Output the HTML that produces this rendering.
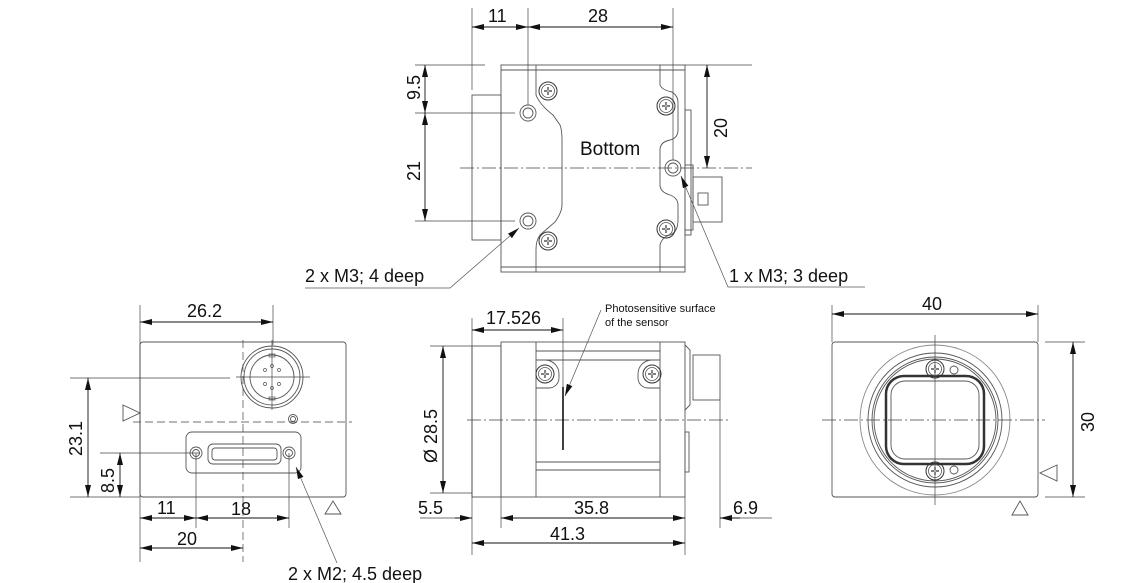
<!DOCTYPE html>
<html><head><meta charset="utf-8"><style>
html,body{margin:0;padding:0;background:#fff}
svg{display:block}
text{font-family:"Liberation Sans",Arial,sans-serif;fill:#111}
</style></head><body>
<svg width="1144" height="583" viewBox="0 0 1144 583" xmlns="http://www.w3.org/2000/svg">
<defs>
<marker id="a" viewBox="0 0 12 6" refX="12" refY="3" markerWidth="12" markerHeight="6" orient="auto-start-reverse" markerUnits="userSpaceOnUse"><path d="M0,0 L12,3 L0,6z" fill="#111"/></marker>
<g id="scr"><circle r="9" fill="none" stroke="#333" stroke-width="1"/><circle r="6.5" fill="none" stroke="#555" stroke-width="0.8"/><path d="M-4,0H4M0,-4V4" stroke="#333" stroke-width="2"/><path d="M-4,0H4M0,-4V4" stroke="#fff" stroke-width="0.8"/></g>
<g id="hole"><circle r="8" fill="none" stroke="#555" stroke-width="0.9"/><circle r="5" fill="none" stroke="#555" stroke-width="0.9"/></g>
</defs>
<g fill="none" stroke="#555" stroke-width="0.9">
<!-- TOP VIEW -->
<rect x="472" y="95" width="29" height="145"/>
<rect x="501" y="65" width="184" height="207"/>
<line x1="501" y1="70" x2="685" y2="70"/><line x1="501" y1="267" x2="685" y2="267"/>
<path d="M536,65 V95 Q540,105 553,115 L560,125 Q562,130 562,140 V205 Q562,212 555,222 L540,235 Q536,240 536,250 V272"/>
<path d="M660,65 V85 Q662,90 672,92 Q678,96 678,102 V130 Q678,138 670,140 Q660,142 660,150 V185 Q660,192 670,195 Q678,198 678,205 V220 Q678,232 670,235 Q662,237 660,245 V272"/>
<rect x="685" y="110" width="6" height="125"/>
<rect x="685" y="165" width="8" height="65"/>
<rect x="693" y="177" width="29" height="45"/>
<rect x="698" y="193" width="10" height="12"/>
<g stroke="#444" stroke-width="0.7">
<line x1="472" y1="8" x2="472" y2="90"/><line x1="528" y1="8" x2="528" y2="105"/><line x1="673" y1="8" x2="673" y2="160"/>
<line x1="415" y1="65" x2="485" y2="65"/><line x1="415" y1="113" x2="515" y2="113"/><line x1="415" y1="221" x2="515" y2="221"/>
<line x1="685" y1="65" x2="752" y2="65"/>
<line x1="460" y1="168" x2="752" y2="168" stroke-dasharray="14,3,2,3"/>
</g>
</g>
<use href="#hole" x="528" y="113"/><use href="#hole" x="528" y="221"/><use href="#hole" x="673" y="168"/>
<use href="#scr" x="548" y="91"/><use href="#scr" x="548" y="241"/><use href="#scr" x="666" y="106"/><use href="#scr" x="666" y="229"/>
<g stroke="#111" stroke-width="0.9" fill="none">
<line x1="472" y1="27" x2="528" y2="27" marker-start="url(#a)" marker-end="url(#a)"/>
<line x1="528" y1="27" x2="673" y2="27" marker-start="url(#a)" marker-end="url(#a)"/>
<line x1="425" y1="65" x2="425" y2="113" marker-start="url(#a)" marker-end="url(#a)"/>
<line x1="425" y1="113" x2="425" y2="221" marker-start="url(#a)" marker-end="url(#a)"/>
<line x1="707" y1="65" x2="707" y2="168" marker-start="url(#a)" marker-end="url(#a)"/>
</g>
<g stroke="#555" stroke-width="0.7" fill="none">
<polyline points="305,288 450,288 519,228" marker-end="url(#a)"/>
<polyline points="865,287 728,287 681,176" marker-end="url(#a)"/>
</g>
<g font-size="18">
<text x="488" y="22">11</text><text x="588" y="22">28</text>
<text x="580" y="155" font-size="19">Bottom</text>
<text transform="translate(420,100) rotate(-90)">9.5</text>
<text transform="translate(420,181) rotate(-90)">21</text>
<text transform="translate(727,138) rotate(-90)">20</text>
<text x="305" y="282">2 x M3; 4 deep</text>
<text x="729" y="282">1 x M3; 3 deep</text>
</g>

<!-- LEFT VIEW -->
<g fill="none" stroke="#555" stroke-width="0.9">
<rect x="140" y="342" width="206" height="155" rx="3"/>
<circle cx="272" cy="377" r="31"/><circle cx="272" cy="377" r="28"/><circle cx="272" cy="377" r="22"/>
<g stroke-width="0.7"><circle cx="265" cy="370" r="1.5"/><circle cx="279" cy="370" r="1.5"/><circle cx="265" cy="384" r="1.5"/><circle cx="279" cy="384" r="1.5"/><circle cx="272" cy="366" r="1.5"/><circle cx="272" cy="388" r="1.5"/><rect x="269" y="354" width="6" height="3"/><rect x="269" y="397" width="6" height="3"/></g>
<circle cx="293" cy="419" r="4.5"/><circle cx="293" cy="419" r="2.5"/>
<rect x="186" y="432" width="115" height="41" rx="6"/>
<rect x="208" y="444" width="73" height="20" rx="5"/><rect x="212" y="448" width="65" height="12" rx="3"/>
<circle cx="196" cy="453" r="6"/><circle cx="196" cy="453" r="3.5"/>
<circle cx="289" cy="453" r="6"/><circle cx="289" cy="453" r="3.5"/>
<polygon points="123,405 140,413 123,421"/><polygon points="325,514 333,501 341,514"/>
<g stroke="#444" stroke-width="0.7">
<line x1="133" y1="422" x2="352" y2="422" stroke-dasharray="8,4"/>
<line x1="243" y1="340" x2="243" y2="562" stroke-dasharray="8,4"/>
<line x1="272" y1="340" x2="272" y2="410"/><line x1="236" y1="377" x2="310" y2="377"/>
<line x1="140" y1="305" x2="140" y2="562"/><line x1="273" y1="305" x2="273" y2="345"/>
<line x1="70" y1="378" x2="230" y2="378"/><line x1="70" y1="497" x2="140" y2="497"/>
<line x1="100" y1="453" x2="200" y2="453"/>
<line x1="196" y1="453" x2="196" y2="528"/><line x1="289" y1="453" x2="289" y2="528"/>
</g>
</g>
<g stroke="#111" stroke-width="0.9" fill="none">
<line x1="140" y1="322" x2="273" y2="322" marker-start="url(#a)" marker-end="url(#a)"/>
<line x1="88" y1="378" x2="88" y2="497" marker-start="url(#a)" marker-end="url(#a)"/>
<line x1="120" y1="453" x2="120" y2="497" marker-start="url(#a)" marker-end="url(#a)"/>
<line x1="140" y1="518" x2="196" y2="518" marker-start="url(#a)" marker-end="url(#a)"/>
<line x1="196" y1="518" x2="289" y2="518" marker-start="url(#a)" marker-end="url(#a)"/>
<line x1="140" y1="548" x2="243" y2="548" marker-start="url(#a)" marker-end="url(#a)"/>
</g>
<line x1="337" y1="563" x2="296" y2="467" stroke="#555" stroke-width="0.7" marker-end="url(#a)"/>
<g font-size="18">
<text x="187" y="317">26.2</text>
<text transform="translate(82,456) rotate(-90)">23.1</text>
<text transform="translate(114,493) rotate(-90)">8.5</text>
<text x="157" y="514">11</text><text x="231" y="515">18</text><text x="177" y="545">20</text>
<text x="288" y="580">2 x M2; 4.5 deep</text>
</g>

<!-- MIDDLE VIEW -->
<g fill="none" stroke="#555" stroke-width="0.9">
<rect x="472" y="346" width="29" height="151"/>
<rect x="501" y="342" width="184" height="155"/>
<line x1="536" y1="342" x2="536" y2="497"/><line x1="660" y1="342" x2="660" y2="497"/>
<line x1="536" y1="351" x2="660" y2="351"/><line x1="536" y1="360" x2="660" y2="360"/>
<line x1="536" y1="462" x2="660" y2="462"/><line x1="536" y1="470" x2="660" y2="470"/>
<path d="M536,360 H545 A14,14 0 0 1 559,374 V378 A10,10 0 0 1 549,388 H536"/>
<path d="M660,360 H652 A14,14 0 0 0 638,374 V378 A10,10 0 0 0 648,388 H660"/>
<path d="M685,345 L690,350 V405 L685,410"/>
<rect x="693" y="355" width="27" height="45"/>
<rect x="685" y="432" width="4" height="40"/>
<g stroke="#444" stroke-width="0.7">
<line x1="467" y1="420" x2="730" y2="420" stroke-dasharray="14,3,2,3"/>
<line x1="472" y1="318" x2="472" y2="555"/><line x1="563" y1="318" x2="563" y2="390"/>
<line x1="501" y1="497" x2="501" y2="528"/><line x1="685" y1="497" x2="685" y2="555"/>
<line x1="720" y1="400" x2="720" y2="528"/>
<line x1="430" y1="346" x2="472" y2="346"/><line x1="430" y1="493" x2="472" y2="493"/>
<line x1="420" y1="518" x2="455" y2="518"/><line x1="740" y1="518" x2="772" y2="518"/>
</g>
</g>
<line x1="563" y1="387" x2="563" y2="450" stroke="#111" stroke-width="1.6"/>
<use href="#scr" x="545" y="374"/><use href="#scr" x="652" y="374"/>
<g stroke="#111" stroke-width="0.9" fill="none">
<line x1="472" y1="330" x2="563" y2="330" marker-start="url(#a)" marker-end="url(#a)"/>
<line x1="443" y1="346" x2="443" y2="493" marker-start="url(#a)" marker-end="url(#a)"/>
<line x1="455" y1="518" x2="472" y2="518" marker-end="url(#a)"/>
<line x1="501" y1="518" x2="685" y2="518" marker-start="url(#a)" marker-end="url(#a)"/>
<line x1="740" y1="518" x2="720" y2="518" marker-end="url(#a)"/>
<line x1="472" y1="543" x2="685" y2="543" marker-start="url(#a)" marker-end="url(#a)"/>
</g>
<line x1="601" y1="310" x2="565" y2="396" stroke="#555" stroke-width="0.7" marker-end="url(#a)"/>
<g font-size="18">
<text x="486" y="324">17.526</text>
<text transform="translate(437,463) rotate(-90)">Ø 28.5</text>
<text x="418" y="514">5.5</text><text x="574" y="514">35.8</text><text x="733" y="514">6.9</text>
<text x="550" y="540">41.3</text>
<text x="605" y="312" font-size="11">Photosensitive surface</text>
<text x="605" y="326" font-size="11">of the sensor</text>
</g>

<!-- RIGHT VIEW -->
<g fill="none" stroke="#555" stroke-width="0.9">
<rect x="832" y="342" width="206" height="155" rx="3"/>
<circle cx="935" cy="420" r="75" stroke="#888"/><circle cx="935" cy="420" r="67"/><circle cx="935" cy="420" r="63"/><circle cx="935" cy="420" r="61"/>
<rect x="886" y="376" width="98" height="88" rx="18" stroke="#333" stroke-width="2.5"/>
<rect x="891" y="381" width="88" height="78" rx="14"/>
<circle cx="954" cy="370" r="4"/><circle cx="954" cy="470" r="4"/>
<polygon points="1057,465 1040,473 1057,481"/><polygon points="1012,515 1020,501 1028,515"/>
<g stroke="#444" stroke-width="0.7">
<line x1="822" y1="420" x2="1045" y2="420" stroke-dasharray="14,3,2,3"/>
<line x1="935" y1="335" x2="935" y2="505"/>
<line x1="832" y1="305" x2="832" y2="342"/><line x1="1038" y1="305" x2="1038" y2="342"/>
<line x1="1045" y1="342" x2="1085" y2="342"/><line x1="1045" y1="497" x2="1085" y2="497"/>
</g>
</g>
<use href="#scr" x="935" y="369"/><use href="#scr" x="935" y="471"/>
<g stroke="#111" stroke-width="0.9" fill="none">
<line x1="832" y1="314" x2="1038" y2="314" marker-start="url(#a)" marker-end="url(#a)"/>
<line x1="1073" y1="342" x2="1073" y2="497" marker-start="url(#a)" marker-end="url(#a)"/>
</g>
<g font-size="18">
<text x="922" y="310">40</text>
<text transform="translate(1094,432) rotate(-90)">30</text>
</g>
</svg>
</body></html>
